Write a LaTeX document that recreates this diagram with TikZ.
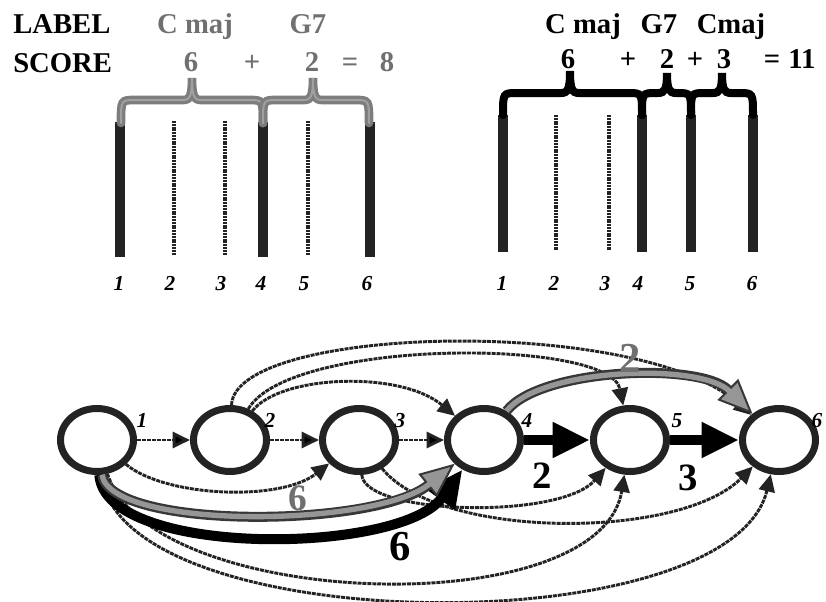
\documentclass[tikz,border=0pt]{standalone}
\usepackage{fontspec}
\setmainfont{Liberation Serif}
\usetikzlibrary{arrows.meta,positioning,shapes.geometric}
\definecolor{ink}{RGB}{35,35,35}
\definecolor{hint}{RGB}{112,112,112}
\definecolor{pale}{RGB}{150,150,150}
\definecolor{rim}{RGB}{55,55,55}
\definecolor{braceg}{RGB}{125,125,125}
\definecolor{braceh}{RGB}{160,160,160}
\newcommand{\chordbrace}[7]{%
  \draw[#1] (#2,#5) .. controls (#2,#6) and (#2,#6) .. (#2+14,#6)
    -- (#3-9,#6) .. controls (#3-2,#6) and (#3,#6-4) .. (#3,#7)
    .. controls (#3,#6-4) and (#3+2,#6) .. (#3+9,#6)
    -- (#4-14,#6) .. controls (#4,#6) and (#4,#6) .. (#4,#5);}

\begin{document}
\begin{tikzpicture}[x=0.75pt,y=-0.75pt]
\tikzstyle{vertex}=[ellipse, draw=ink, line width=5.25pt, node distance=97.5pt,
inner sep=0pt, minimum width=54.75pt, minimum height=47.25pt]
\tikzstyle{link}=[->, draw=ink, line width=2.2pt, dash pattern=on 3pt off 0.7pt,
>={Triangle[length=13pt,width=12pt]}]
\tikzstyle{win}=[draw=black, line width=7.5pt, -{Triangle[length=28pt,width=25pt]}]
\tikzstyle{lose}=[draw=rim, line width=7.5pt,
-{Triangle[length=26pt,width=22pt,line width=1.5pt,fill=pale]},
postaction={draw=pale, line width=4pt, -, shorten >=24pt}]
\tikzstyle{bar}=[draw=ink, line width=7.5pt]
\tikzstyle{thinbar}=[draw=ink, line width=2.5pt, dash pattern=on 1.5pt off 0.6pt]
\tikzstyle{txt}=[font=\bfseries\fontsize{21.5}{24}\selectfont, inner sep=0pt, anchor=base]
\tikzstyle{num}=[font=\bfseries\itshape\fontsize{16}{18}\selectfont, inner sep=0pt, anchor=base]
\tikzstyle{big}=[font=\bfseries\fontsize{29}{32}\selectfont, inner sep=0pt, anchor=base]
\tikzstyle{gbrace}=[draw=braceg, line width=6.5pt, line cap=round,
postaction={draw=braceh, line width=1.5pt}]
\tikzstyle{kbrace}=[draw=black, line width=6pt, line cap=round]

\useasboundingbox (0,0) rectangle (826,601);

% labels and scores
\node[txt, anchor=base west] (lab) at (13,33) {LABEL};
\node[txt, anchor=base west] (sco) at (13,72) {SCORE};
\node[txt, hint] (cm1) at (195,33) {C maj};
\node[txt, hint] (g71) at (308,33) {G7};
\node[txt, hint] (s1) at (191,71) {6};
\node[txt, hint] (p1) at (252,71) {+};
\node[txt, hint] (s2) at (312,71) {2};
\node[txt, hint] (e1) at (350,71) {=};
\node[txt, hint] (t1) at (387,71) {8};
\node[txt] (cm2) at (583,33) {C maj};
\node[txt] (g72) at (659,33) {G7};
\node[txt] (cm3) at (731,33) {Cmaj};
\node[txt] (r1) at (568,68) {6};
\node[txt] (p2) at (628,68) {+};
\node[txt] (r2) at (667,68) {2};
\node[txt] (p3) at (695,68) {+};
\node[txt] (r3) at (724,68) {3};
\node[txt] (e2) at (772,68) {=};
\node[txt] (t2) at (802,68) {11};

% frames
\foreach \x in {120,263,370} \draw[bar] (\x,122) -- (\x,257);
\foreach \x in {174,225,308} \draw[thinbar] (\x,121) -- (\x,255);
\foreach \x in {503,642,691,753} \draw[bar] (\x,115) -- (\x,252);
\foreach \x in {556,609} \draw[thinbar] (\x,115) -- (\x,250);
\foreach \x/\n in {119/1,170/2,221/3,261/4,304/5,367/6}
  \node[num] (a\n) at (\x,290) {\n};
\foreach \x/\n in {502/1,554/2,605/3,638/4,690/5,752/6}
  \node[num] (b\n) at (\x,290) {\n};

\chordbrace{gbrace}{121}{192}{263}{123}{100}{78}
\chordbrace{gbrace}{263}{313}{369}{123}{100}{78}
\chordbrace{kbrace}{503}{570}{642}{115}{93}{71}
\chordbrace{kbrace}{642}{667}{691}{115}{93}{73}
\chordbrace{kbrace}{691}{722}{753}{115}{93}{73}

% lattice
\node[vertex] at (97,440) (1) {};
\node[vertex,right of =1,xshift=2.25pt](2) {};
\node[vertex,right of =2,xshift=-0.75pt](3) {};
\node[vertex,right of =3,xshift=-3.75pt](4) {};
\node[vertex,right of =4,xshift=12pt](5) {};
\node[vertex,right of =5,xshift=14.25pt](6) {};
\foreach \n/\dx in {1/45,2/40,3/41,4/43,5/47,6/38}
  \node[num] (n\n) at ([shift={(\dx,-13)}]\n) {\n};

\coordinate (24c1) at (280,375);
\coordinate (24c2) at (400,370);
\coordinate (25c1) at (290,338);
\coordinate (25c2) at (610,338);
\coordinate (26c1) at (235,325);
\coordinate (26c2) at (640,315);
\coordinate (46c1) at (540,368);
\coordinate (46c2) at (700,362);
\coordinate (13c1) at (165,497);
\coordinate (13c2) at (280,502);
\coordinate (14c1) at (110,530);
\coordinate (14c2) at (375,528);
\coordinate (14d1) at (105,558);
\coordinate (14d2) at (400,555);
\coordinate (15c1) at (150,610);
\coordinate (15c2) at (600,625);
\coordinate (16c1) at (120,640);
\coordinate (16c2) at (730,645);
\coordinate (35c1) at (365,515);
\coordinate (35c2) at (560,520);
\coordinate (36c1) at (440,540);
\coordinate (36c2) at (680,540);

\path[link] (1) edge (2) ;
\path[link] (2) edge (3) ;
\path[link] (3) edge (4) ;
\draw[link] (2) .. controls (24c1) and (24c2) .. (4) ;
\draw[link] (2) .. controls (25c1) and (25c2) .. (5) ;
\draw[link] (2) .. controls (26c1) and (26c2) .. (6) ;
\draw[link] (1) .. controls (13c1) and (13c2) .. (3) ;
\draw[link] (1) .. controls (15c1) and (15c2) .. (5) ;
\draw[link] (1) .. controls (16c1) and (16c2) .. (6) ;
\draw[link] (3) .. controls (35c1) and (35c2) .. (5) ;
\draw[link] (3) .. controls (36c1) and (36c2) .. (6) ;
\draw[win] (1) .. controls (14d1) and (14d2) .. (4) ;
\draw[lose] (1) .. controls (14c1) and (14c2) .. (4) ;
\draw[lose] (4) .. controls (46c1) and (46c2) .. (6) ;
\path[win] (4) edge (5) ;
\path[win] (5) edge (6) ;

\node[big] (w45) at (542,488) {2};
\node[big] (w56) at (688,490) {3};
\node[big, font=\bfseries\fontsize{32}{34}\selectfont] (w14) at (400,560) {6};
\node[big, hint, font=\bfseries\fontsize{28}{30}\selectfont] (l14) at (298,510) {6};
\node[big, hint, font=\bfseries\fontsize{32}{34}\selectfont] (l46) at (630,372) {2};

\end{tikzpicture}
\end{document}
